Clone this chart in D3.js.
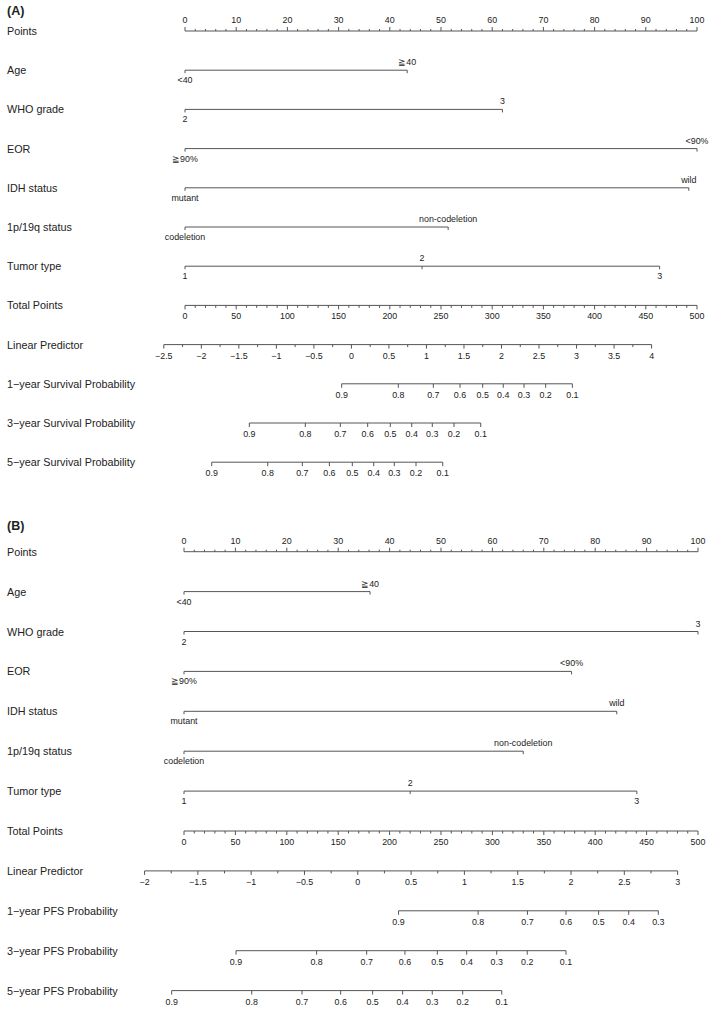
<!DOCTYPE html>
<html><head><meta charset="utf-8">
<script src="https://cdn.jsdelivr.net/npm/d3@7"></script>
<style>
body{margin:0;background:#fff}
text{font-family:"Liberation Sans",Arial,Helvetica,sans-serif;fill:#222}
</style>
</head><body><svg id="c" width="709" height="1012"></svg>
<script>
// ---------- data ----------
const panelTitles = ["(A)", "(B)"];
const variableNames = ["Age", "WHO grade", "EOR", "IDH status", "1p/19q status", "Tumor type"];
const variableLevels = [["<40", "≧40"], ["2", "3"], ["≧90%", "<90%"], ["mutant", "wild"], ["codeletion", "non-codeletion"], ["1", "2", "3"]];
const levelPointsA = [[0, 43.4], [0, 62.0], [0, 100], [0, 98.4], [0, 51.4], [0, 46.3, 92.7]];
const levelPointsB = [[0, 36.2], [0, 100], [0, 75.4], [0, 84.2], [0, 66.0], [0, 44.0, 88.1]];
const pointsTicks = [0, 10, 20, 30, 40, 50, 60, 70, 80, 90, 100];
const totalPointsTicks = [0, 50, 100, 150, 200, 250, 300, 350, 400, 450, 500];
const lpTicksA = [-2.5, -2, -1.5, -1, -0.5, 0, 0.5, 1, 1.5, 2, 2.5, 3, 3.5, 4];
const lpTicksB = [-2, -1.5, -1, -0.5, 0, 0.5, 1, 1.5, 2, 2.5, 3];
const lpAtTotalA = [-2.2175, 4.605];   // linear predictor at total points 0 and 500
const lpAtTotalB = [-1.630, 3.191];
const outcomeNamesA = ["1\u2212year Survival Probability", "3\u2212year Survival Probability", "5\u2212year Survival Probability"];
const outcomeNamesB = ["1\u2212year PFS Probability", "3\u2212year PFS Probability", "5\u2212year PFS Probability"];
const probLabelsA = [
  [0.9, 0.8, 0.7, 0.6, 0.5, 0.4, 0.3, 0.2, 0.1],
  [0.9, 0.8, 0.7, 0.6, 0.5, 0.4, 0.3, 0.2, 0.1],
  [0.9, 0.8, 0.7, 0.6, 0.5, 0.4, 0.3, 0.2, 0.1]];
const probTotalsA = [
  [153.0, 208.3, 242.5, 268.6, 290.7, 310.8, 331.1, 352.2, 378.3],
  [62.8, 117.5, 151.7, 178.4, 200.5, 221.4, 241.5, 262.7, 288.8],
  [26.1, 80.8, 114.6, 141.0, 163.4, 184.3, 204.4, 225.6, 251.7]];
const probLabelsB = [
  [0.9, 0.8, 0.7, 0.6, 0.5, 0.4, 0.3],
  [0.9, 0.8, 0.7, 0.6, 0.5, 0.4, 0.3, 0.2, 0.1],
  [0.9, 0.8, 0.7, 0.6, 0.5, 0.4, 0.3, 0.2, 0.1]];
const probTotalsB = [
  [208.7, 286.1, 334.1, 371.6, 403.3, 432.6, 461.4],
  [50.6, 129.0, 177.7, 214.9, 246.4, 275.0, 304.2, 333.9, 371.6],
  [-12.0, 65.9, 114.8, 152.4, 183.5, 212.7, 241.5, 271.1, 309.1]];

// ---------- layout ----------
const panelsCfg = [
  {title: panelTitles[0], titleY: 15, y0: 31, dy: 39.2, x0: 185, x1: 697,
   levelPoints: levelPointsA, lpTicks: lpTicksA, lpAtTotal: lpAtTotalA,
   outcomes: outcomeNamesA, probLabels: probLabelsA, probTotals: probTotalsA},
  {title: panelTitles[1], titleY: 530, y0: 551.7, dy: 39.9, x0: 184, x1: 698,
   levelPoints: levelPointsB, lpTicks: lpTicksB, lpAtTotal: lpAtTotalB,
   outcomes: outcomeNamesB, probLabels: probLabelsB, probTotals: probTotalsB}
];

const svg = d3.select("#c");
const LINE = "#555", RFS = 10.8, TFS = 8.9;
const fmt = v => String(v).replace("-", "\u2212");

function hline(g, xa, xb, y) {
  g.append("line").attr("x1", xa).attr("x2", xb).attr("y1", y).attr("y2", y)
    .attr("stroke", LINE).attr("stroke-width", 1);
}
function tick(g, x, y, len) {
  g.append("line").attr("x1", x).attr("x2", x).attr("y1", y).attr("y2", y + len)
    .attr("stroke", LINE).attr("stroke-width", 1);
}
function label(g, x, y, t, size, anchor) {
  g.append("text").attr("x", x).attr("y", y).attr("font-size", size)
    .attr("text-anchor", anchor || "middle").text(t);
}

panelsCfg.forEach(cfg => {
  const g = svg.append("g");
  const pts = d3.scaleLinear().domain([0, 100]).range([cfg.x0, cfg.x1]);
  const tot = d3.scaleLinear().domain([0, 500]).range([cfg.x0, cfg.x1]);
  const lp = d3.scaleLinear().domain(cfg.lpAtTotal).range([cfg.x0, cfg.x1]);
  const rowY = i => cfg.y0 + i * cfg.dy;

  g.append("text").attr("x", 7).attr("y", cfg.titleY).attr("font-size", 12.5)
    .attr("font-weight", "bold").text(cfg.title);

  const rowNames = ["Points"].concat(variableNames, ["Total Points", "Linear Predictor"], cfg.outcomes);
  rowNames.forEach((n, i) => label(g, 7, rowY(i) + 4, n, RFS, "start"));

  // Points
  let y = rowY(0);
  hline(g, pts(0), pts(100), y);
  d3.range(0, 101, 2).forEach(v => tick(g, pts(v), y, pointsTicks.includes(v) ? -4 : -2));
  pointsTicks.forEach(v => label(g, pts(v), y - 8, v, TFS));

  // variables
  variableNames.forEach((n, k) => {
    const yy = rowY(k + 1);
    const p = cfg.levelPoints[k];
    hline(g, pts(d3.min(p)), pts(d3.max(p)), yy);
    p.forEach((v, j) => {
      tick(g, pts(v), yy, 3);
      label(g, pts(v), j % 2 === 0 ? yy + 13 : yy - 5, variableLevels[k][j], TFS);
    });
  });

  // Total points
  y = rowY(7);
  hline(g, tot(0), tot(500), y);
  d3.range(0, 501, 10).forEach(v => tick(g, tot(v), y, totalPointsTicks.includes(v) ? 4 : 2.5));
  totalPointsTicks.forEach(v => label(g, tot(v), y + 14, v, TFS));

  // Linear predictor
  y = rowY(8);
  const lt = cfg.lpTicks;
  hline(g, lp(lt[0]), lp(lt[lt.length - 1]), y);
  d3.range(lt[0], lt[lt.length - 1] + 0.001, 0.25).forEach(v => {
    const major = Math.abs(v * 2 - Math.round(v * 2)) < 1e-6;
    tick(g, lp(v), y, major ? 4 : 2.5);
  });
  lt.forEach(v => label(g, lp(v), y + 14, fmt(v), TFS));

  // outcome probabilities
  cfg.outcomes.forEach((n, k) => {
    const yy = rowY(9 + k);
    const t = cfg.probTotals[k];
    hline(g, tot(d3.min(t)), tot(d3.max(t)), yy);
    t.forEach((v, j) => {
      tick(g, tot(v), yy, 4);
      label(g, tot(v), yy + 14, cfg.probLabels[k][j], TFS);
    });
  });
});
</script></body></html>
